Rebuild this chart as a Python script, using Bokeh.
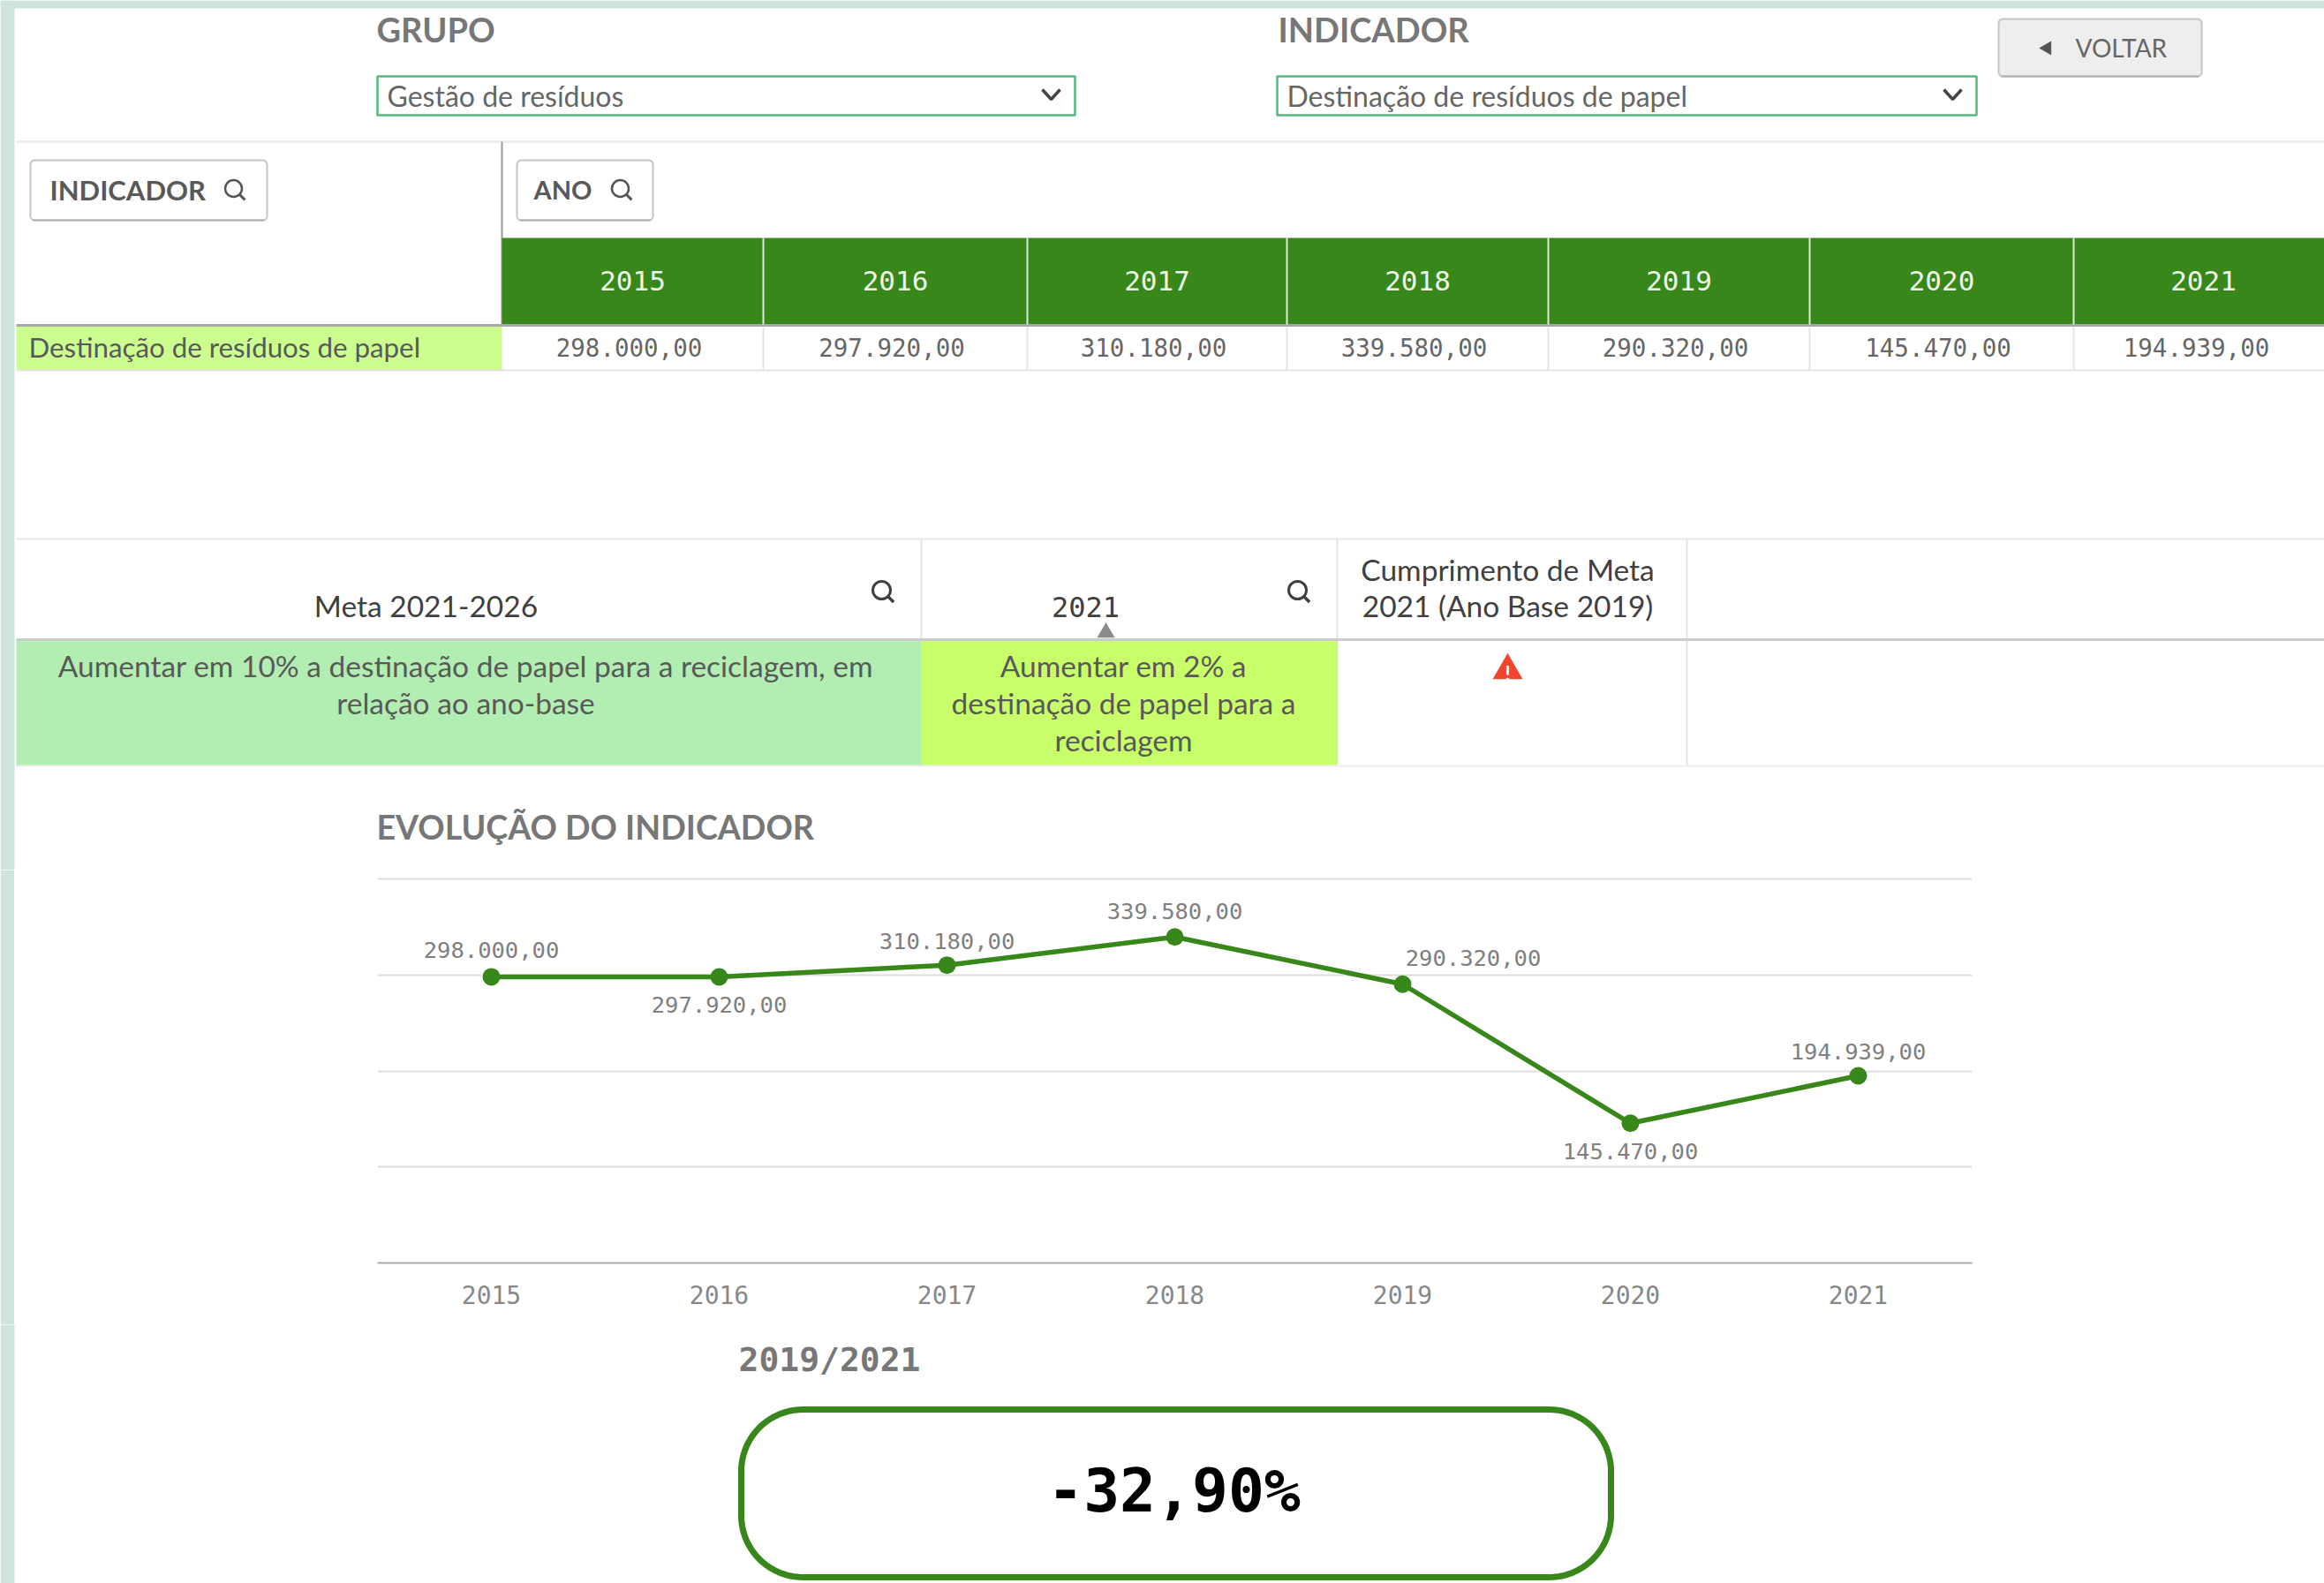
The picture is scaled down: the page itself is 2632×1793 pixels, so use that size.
import numpy as np
from bokeh.core.properties import value
from bokeh.embed import file_html
from bokeh.layouts import column, row
from bokeh.models import ColumnDataSource, FactorRange, FixedTicker, Range1d
from bokeh.plotting import figure
from bokeh.resources import INLINE

# ---- data ----
years = ["2015", "2016", "2017", "2018", "2019", "2020", "2021"]
paper = [298000, 297920, 310180, 339580, 290320, 145470, 194939]
indicator = "Destinação de resíduos de papel"
group = "Gestão de resíduos"
goal_long = ["Aumentar em 10% a destinação de papel para a reciclagem, em", "relação ao ano-base"]
goal_2021 = ["Aumentar em 2% a", "destinação de papel para a", "reciclagem"]
change_label = "-32,90%"
y_ticks = [0, 100000, 200000, 300000, 400000]

GREEN = "#38871a"
GREY = "#777777"
TXT = "#595959"
SANS = "Lato"
MONO = "DejaVu Sans Mono"
STRIP = "#cfe3df"
W = 2632


def br(v):
    return f"{v:,.2f}".replace(",", "#").replace(".", ",").replace("#", ".")


labels = [br(v) for v in paper]


def canvas(h, y0):
    f = figure(width=W, height=h, x_range=Range1d(0, W), y_range=Range1d(y0 + h, y0),
               x_axis_type=None, y_axis_type=None, toolbar_location=None, output_backend="svg",
               min_border=0, outline_line_color=None, background_fill_color="white", frame_align=False)
    f.grid.visible = False
    return f


def text(f, x, y, s, size, color=TXT, font=SANS, bold=False, align="left"):
    f.text([x], [y], text=[s], text_font=value(font), text_font_size=value(f"{size}px"),
           text_color=color, text_align=align, text_baseline="middle",
           text_font_style="bold" if bold else "normal")


def rect(f, x0, x1, y0, y1, color):
    f.quad(left=[x0], right=[x1], top=[y0], bottom=[y1], fill_color=color, line_color=None)


def hline(f, x0, x1, y, color, w=2):
    f.segment([x0], [y], [x1], [y], line_color=color, line_width=w)


def vline(f, x, y0, y1, color, w=2):
    f.segment([x], [y0], [x], [y1], line_color=color, line_width=w)


def rounded(x0, x1, y0, y1, r):
    t = np.linspace(0, np.pi / 2, 24)
    xs = np.concatenate([x1 - r + r * np.sin(t), x1 - r + r * np.cos(t), x0 + r - r * np.sin(t), x0 + r - r * np.cos(t)])
    ys = np.concatenate([y0 + r - r * np.cos(t), y1 - r + r * np.sin(t), y1 - r + r * np.cos(t), y0 + r - r * np.sin(t)])
    return xs, ys


def button(f, x0, x1, y0, y1, fill, r=5):
    xs, ys = rounded(x0, x1, y0, y1, r)
    f.patch(xs, ys, fill_color=fill, line_color="#c4c4c4", line_width=2)
    hline(f, x0 + 3, x1 - 3, y1, "#b0b0b0", 2)


def magnifier(f, x, y, color="#555555", w=2.5, s=19):
    f.scatter([x], [y], size=s, marker="circle", fill_color=None, line_color=color, line_width=w)
    f.segment([x + s * 0.33], [y + s * 0.33], [x + s * 0.68], [y + s * 0.68], line_color=color, line_width=w + 0.5)


def chevron(f, x, y):
    f.line([x - 10, x, x + 10], [y - 6, y + 5, y - 6], line_color="#444444", line_width=3.5)


# ---- upper part of the dashboard ----
top = canvas(985, 0)
rect(top, 0, 16, 0, 985, STRIP)
rect(top, 0, W, 0, 9, STRIP)

text(top, 426, 32, "GRUPO", 38, GREY, bold=True)
text(top, 1447, 32, "INDICADOR", 38, GREY, bold=True)
for x0, x1, s in [(427, 1217, group), (1446, 2238, indicator)]:
    top.quad(left=[x0], right=[x1], top=[86], bottom=[130], fill_color="white", line_color="#52b97e", line_width=2.5)
    text(top, x0 + 11, 107.5, s, 32, "#666666")
    chevron(top, x1 - 27, 107)

button(top, 2263, 2493, 21, 86, "#eeeeee")
top.scatter([2318], [54], marker="triangle", angle=np.pi / 2, size=16, fill_color="#555555", line_color=None)
text(top, 2350, 53, "VOLTAR", 28, "#666666", bold=False)

hline(top, 18, W, 160, "#eeeeee", 3)
vline(top, 568, 160, 368, "#999999", 2)
button(top, 34, 302, 181, 249, "white")
text(top, 56, 214, "INDICADOR", 31, TXT, bold=True)
magnifier(top, 264, 213)
button(top, 585, 739, 181, 249, "white")
text(top, 604, 214, "ANO", 29, TXT, bold=True)
magnifier(top, 702, 213)

col_edges = [568, 864, 1163, 1457, 1753, 2049, 2348, 2642]
rect(top, 568, W, 269, 368, GREEN)
rect(top, 18, 568, 369, 419, "#ccfe8f")
hline(top, 18, W, 368, "#a8a8a8", 3)
hline(top, 18, W, 419, "#e4e4e4", 2)
text(top, 32, 392.5, indicator, 31.3, TXT)
for i, (yr, lab) in enumerate(zip(years, labels)):
    left, right = col_edges[i], col_edges[i + 1]
    mid = (left + right) / 2
    text(top, mid, 317, yr, 31, "#eef7e8", MONO, False, "center")
    text(top, mid - 4 - (4 if i == 6 else 0), 393, lab, 27.5, "#666666", MONO, False, "center")
    if i:
        vline(top, left, 269, 367, "#dfe9da", 2)
        vline(top, left, 370, 419, "#e4e4e4", 2)

# second table
hline(top, 18, W, 610, "#eeeeee", 3)
for x in (1043, 1514, 1910):
    vline(top, x, 610, 867, "#e4e4e4", 2)
rect(top, 18, 1043, 725, 867, "#b2eeb2")
rect(top, 1043, 1514, 725, 867, "#c8fe6a")
hline(top, 18, W, 724, "#cccccc", 3)
hline(top, 18, W, 867, "#eeeeee", 2)
text(top, 482, 685.5, "Meta 2021-2026", 33.5, "#404040", SANS, align="center")
text(top, 1229, 687, "2021", 32, "#404040", MONO, align="center")
text(top, 1707, 644, "Cumprimento de Meta", 33.5, "#404040", SANS, align="center")
text(top, 1707, 685, "2021 (Ano Base 2019)", 33.5, "#404040", SANS, align="center")
magnifier(top, 998, 668, "#404040", 3, 20)
magnifier(top, 1469, 668, "#404040", 3, 20)
top.scatter([1252], [716], marker="triangle", size=20, fill_color="#8a8a8a", line_color=None)
for y, s in zip((753, 795), goal_long):
    text(top, 527, y, s, 33.5, TXT, align="center")
for y, s in zip((753, 795, 837), goal_2021):
    text(top, 1272, y, s, 33.5, TXT, align="center")
top.scatter([1707], [759], marker="triangle", size=34, fill_color="#f4442e", line_color=None)
text(top, 1707, 762, "!", 22, "white", SANS, True, "center")

text(top, 426, 936, "EVOLUÇÃO DO INDICADOR", 37.6, GREY, bold=True)

# ---- line chart ----
px_per_unit = 435 / y_ticks[-1]
strip = figure(width=16, height=515, x_range=Range1d(0, 1), y_range=Range1d(0, 1), x_axis_type=None, y_axis_type=None,
               toolbar_location=None, output_backend="svg", min_border=0, outline_line_color=None, frame_align=False)
strip.grid.visible = False
rect(strip, 0, 1, 1, 0, STRIP)

chart = figure(width=W - 16, height=515, x_range=FactorRange(factors=years, factor_padding=0, range_padding=0),
               y_range=Range1d(y_ticks[0], y_ticks[-1] + 10 / px_per_unit), toolbar_location=None, output_backend="svg",
               min_border_left=411, min_border_right=399, min_border_top=0, min_border_bottom=70,
               outline_line_color=None, frame_align=False)
chart.yaxis.visible = False
chart.xgrid.visible = False
chart.ygrid.ticker = FixedTicker(ticks=y_ticks)
chart.ygrid.grid_line_color = "#dddddd"
chart.ygrid.grid_line_width = 2
ax = chart.xaxis[0]
ax.axis_line_color = "#aaaaaa"
ax.axis_line_width = 2
ax.major_tick_line_color = None
ax.minor_tick_line_color = None
ax.major_tick_out = 0
ax.major_label_standoff = 25
ax.major_label_text_font = MONO
ax.major_label_text_font_size = "28px"
ax.major_label_text_color = "#888888"

label_dx = [0, 0, 0, 0, 80, 0, 0]
label_dy = [-30, 31, -27, -29, -30, 32, -28]
src = ColumnDataSource(dict(year=years, value=paper, label=labels, dx=label_dx, dy=label_dy))
chart.line("year", "value", source=src, line_color=GREEN, line_width=5.5)
chart.scatter("year", "value", source=src, size=20, fill_color=GREEN, line_color=None)
chart.text("year", "value", text="label", source=src, x_offset="dx", y_offset="dy",
           text_font=value(MONO), text_font_size=value("25.5px"), text_color="#808080",
           text_align="center", text_baseline="middle")

# ---- variation box ----
bottom = canvas(293, 1500)
rect(bottom, 0, 16, 1500, 1793, STRIP)
text(bottom, 836, 1539, "2019/2021", 38, GREY, MONO, True)
bx, by = rounded(839, 1824, 1596, 1786, 70)
bottom.patch(bx, by, fill_color="white", line_color=GREEN, line_width=7)
text(bottom, 1329, 1688, change_label, 68, "black", MONO, True, "center")

page = column(top, row(strip, chart, spacing=0), bottom, spacing=0)
open("out.html", "w").write(file_html(page, INLINE))
